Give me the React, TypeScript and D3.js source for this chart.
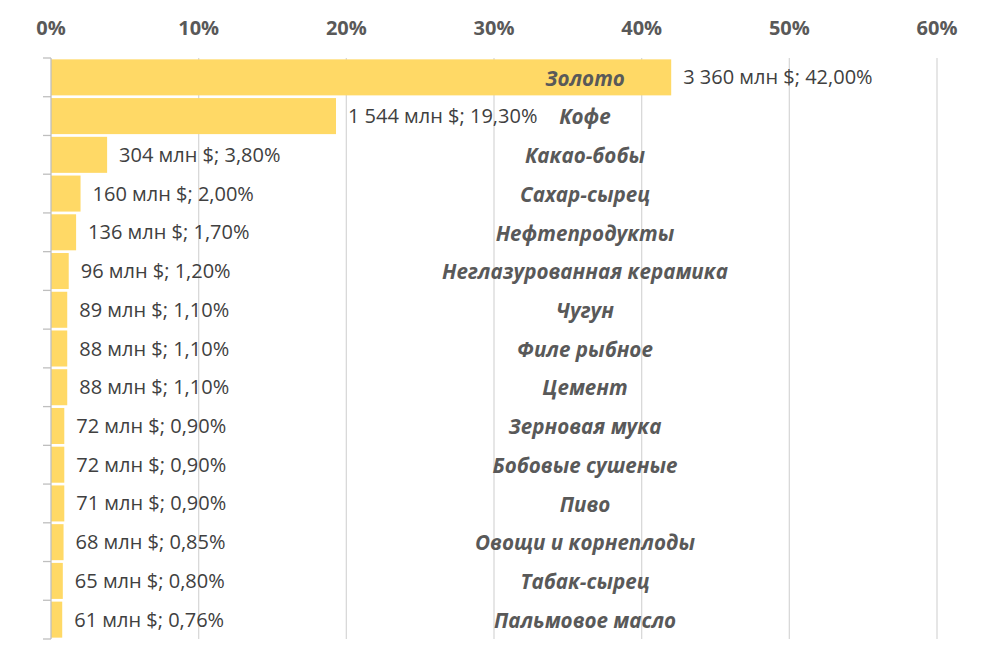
import React from 'react';
import * as d3 from 'd3';

// chart data
const categories = [
  'Золото', 'Кофе', 'Какао-бобы', 'Сахар-сырец', 'Нефтепродукты',
  'Неглазурованная керамика', 'Чугун', 'Филе рыбное', 'Цемент', 'Зерновая мука',
  'Бобовые сушеные', 'Пиво', 'Овощи и корнеплоды', 'Табак-сырец', 'Пальмовое масло',
];
const amounts = ['3 360', '1 544', '304', '160', '136', '96', '89', '88', '88', '72', '72', '71', '68', '65', '61'];
const shares = [42.0, 19.3, 3.8, 2.0, 1.7, 1.2, 1.1, 1.1, 1.1, 0.9, 0.9, 0.9, 0.85, 0.8, 0.76];
const xTicks = [0, 10, 20, 30, 40, 50, 60];

const W = 981;
const H = 664;
const margin = { top: 58, right: 44, bottom: 25, left: 51 };

const App: React.FC = () => {
  const x = d3.scaleLinear().domain([0, 60]).range([margin.left, W - margin.right]);
  const y = d3.scaleBand<string>()
    .domain(categories)
    .range([margin.top, H - margin.bottom])
    .paddingInner(0.07)
    .paddingOuter(0.035);
  const step = y.step();
  const fmt = (v: number) => v.toFixed(2).replace('.', ',') + '%';
  const font = '"Open Sans", sans-serif';

  return (
    <svg width={W} height={H} style={{ position: 'absolute', left: 0, top: 0, display: 'block' }}>
      <rect width={W} height={H} fill="#fff" />
      {/* gridlines */}
      {xTicks.filter(t => t > 0).map(t => (
        <line key={t} x1={x(t)} x2={x(t)} y1={margin.top} y2={H - margin.bottom} stroke="#d9d9d9" strokeWidth={1.3} />
      ))}
      {/* tick labels on top */}
      {xTicks.map(t => (
        <text key={'l' + t} x={x(t)} y={35} textAnchor="middle" fontFamily={font} fontWeight="bold"
          fontSize={20} fill="#595959">{t}%</text>
      ))}
      {/* bars */}
      {categories.map((c, i) => (
        <rect key={c} x={x(0)} y={y(c)!} width={x(shares[i]) - x(0)} height={y.bandwidth()} fill="#FFD966" />
      ))}
      {/* left axis */}
      <line x1={x(0)} x2={x(0)} y1={margin.top} y2={H - margin.bottom} stroke="#bfbfbf" strokeWidth={1.3} />
      {d3.range(categories.length + 1).map(k => {
        const yy = margin.top + k * step;
        return <line key={'t' + k} x1={x(0) - 8} x2={x(0)} y1={yy} y2={yy} stroke="#bfbfbf" strokeWidth={1.3} />;
      })}
      {/* value labels */}
      {categories.map((c, i) => (
        <text key={'v' + c} x={x(shares[i]) + 12} y={y(c)! + y.bandwidth() / 2} dy="0.35em"
          fontFamily={font} fontSize={20} fill="#404040">
          {`${amounts[i]} млн $; ${fmt(shares[i])}`}
        </text>
      ))}
      {/* category labels */}
      {categories.map(c => (
        <text key={'c' + c} x={585} y={y(c)! + y.bandwidth() / 2 + 1} dy="0.35em" textAnchor="middle"
          fontFamily={font} fontSize={20.6} fontWeight="bold" fontStyle="italic" fill="#595959">
          {c}
        </text>
      ))}
    </svg>
  );
};

export default App;
